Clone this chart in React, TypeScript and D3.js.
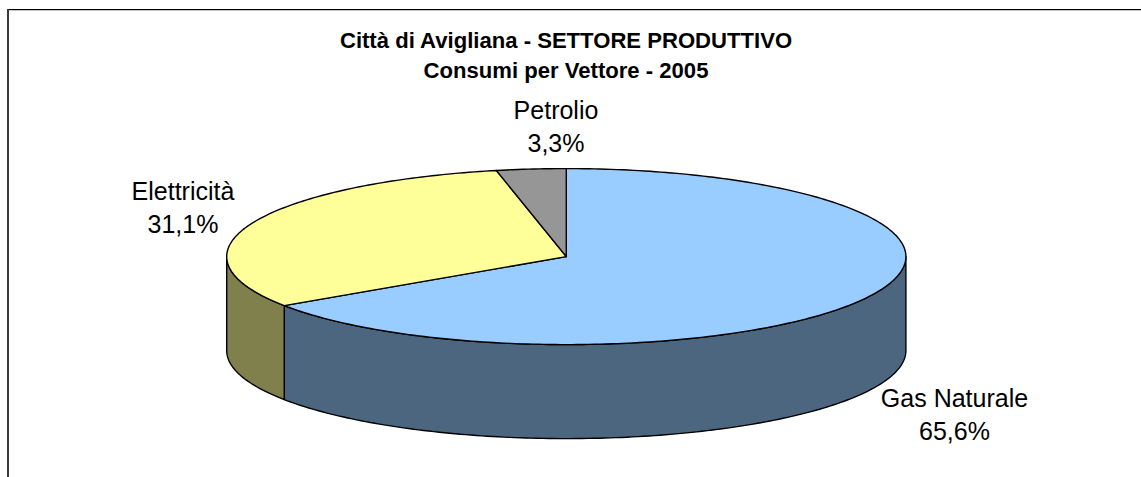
import React from "react";
import * as d3 from "d3";

const categories = ["Gas Naturale", "Elettricità", "Petrolio"];
const values = [65.6, 31.1, 3.3];
const percentLabels = ["65,6%", "31,1%", "3,3%"];
const topColors = ["#99CCFF", "#FFFF99", "#969696"];
const sideColors = ["#4D667F", "#80804D", "#4B4B4B"];
const titleLines = ["Città di Avigliana - SETTORE PRODUTTIVO", "Consumi per Vettore - 2005"];
const labelAnchors = [[954.5, 407], [183, 200], [556, 119]];

const W = 1141, H = 477;
const cx = 566.3, cy = 256.6, rx = 339.6, ry = 88, depth = 94;

const x = d3.scaleLinear().domain([-1, 1]).range([cx - rx, cx + rx]);
const y = d3.scaleLinear().domain([-1, 1]).range([cy - ry, cy + ry]);
const pt = (a: number): [number, number] => [x(Math.sin(a)), y(-Math.cos(a))];

const slices = d3.pie<number>().sort(null)(values);

function rim(a0: number, a1: number, dy = 0): [number, number][] {
  const n = Math.max(2, Math.ceil(Math.abs(a1 - a0) * 60));
  return d3.range(n + 1).map((i) => {
    const [px, py] = pt(a0 + ((a1 - a0) * i) / n);
    return [px, py + dy] as [number, number];
  });
}
const line = d3.line();

function topPath(a0: number, a1: number) {
  return line([[cx, cy], ...rim(a0, a1)])! + "Z";
}
function sidePath(a0: number, a1: number) {
  const lo = Math.max(a0, Math.PI / 2);
  const hi = Math.min(a1, (3 * Math.PI) / 2);
  if (hi <= lo) return null;
  return line([...rim(lo, hi), ...rim(hi, lo, depth)])! + "Z";
}

export default function App() {
  return (
    <svg width={W} height={H} style={{ position: "absolute", left: 0, top: 0, background: "#fff" }}
      fontFamily="'Liberation Sans', Arial, sans-serif">
      <line x1={7} x2={W} y1={9.5} y2={9.5} stroke="#000" strokeWidth={1} />
      <line x1={7} x2={W} y1={10.5} y2={10.5} stroke="#c4c4c4" strokeWidth={1} />
      <line x1={8} x2={8} y1={9} y2={H} stroke="#3a3a3a" strokeWidth={2} />
      {titleLines.map((t, i) => (
        <text key={t} x={566} y={48 + i * 30} textAnchor="middle" fontSize={22.1} fontWeight="bold" fill="#000">{t}</text>
      ))}
      {slices.map((s, i) => {
        const d = sidePath(s.startAngle, s.endAngle);
        return d ? <path key={"side" + i} d={d} fill={sideColors[i]} stroke="#000" strokeWidth={1.4} strokeLinejoin="round" /> : null;
      })}
      {slices.map((s, i) => (
        <path key={"top" + i} d={topPath(s.startAngle, s.endAngle)} fill={topColors[i]} stroke="#000" strokeWidth={1.4} strokeLinejoin="round" />
      ))}
      {categories.map((c, i) => (
        <text key={c} textAnchor="middle" fontSize={25} fill="#000">
          <tspan x={labelAnchors[i][0]} y={labelAnchors[i][1]}>{c}</tspan>
          <tspan x={labelAnchors[i][0]} y={labelAnchors[i][1] + 33}>{percentLabels[i]}</tspan>
        </text>
      ))}
    </svg>
  );
}
